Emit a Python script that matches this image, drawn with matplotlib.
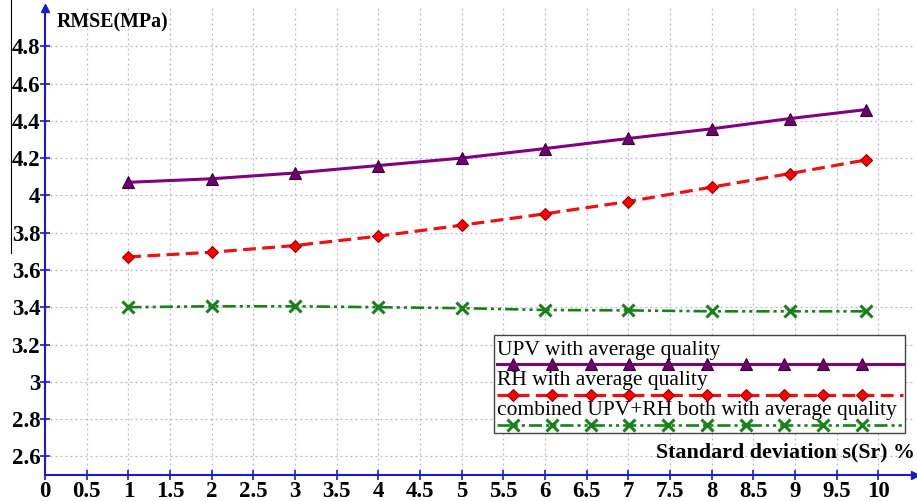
import matplotlib
matplotlib.use("Agg")
import matplotlib.pyplot as plt
from matplotlib.lines import Line2D
from matplotlib.ticker import FuncFormatter
import numpy as np

# ---- data ----
sr = [1, 2, 3, 4, 5, 6, 7, 8, 8.94, 9.85]
upv = [4.07, 4.089, 4.12, 4.16, 4.20, 4.251, 4.305, 4.357, 4.412, 4.46]
rh = [3.670, 3.695, 3.731, 3.781, 3.840, 3.901, 3.967, 4.044, 4.117, 4.19]
combined = [3.400, 3.405, 3.405, 3.400, 3.395, 3.385, 3.383, 3.378, 3.378, 3.378]
labels = ["UPV with average quality",
          "RH with average quality",
          "combined UPV+RH both with average quality"]
x_ticks = [0, 0.5, 1, 1.5, 2, 2.5, 3, 3.5, 4, 4.5, 5, 5.5, 6, 6.5, 7, 7.5, 8, 8.5, 9, 9.5, 10]
y_ticks = [2.6, 2.8, 3.0, 3.2, 3.4, 3.6, 3.8, 4.0, 4.2, 4.4, 4.6, 4.8]

W, H = 917, 501
fig = plt.figure(figsize=(W / 100, H / 100), dpi=100)
fig.patch.set_facecolor("white")

def px(x, y):
    return (x / W, 1 - y / H)

ax_l, ax_b, ax_r, ax_t = 45, 475, 915, 8
ax = fig.add_axes([ax_l / W, 1 - ax_b / H, (ax_r - ax_l) / W, (ax_b - ax_t) / H])
ax.set_xlim(0, 10.44)
ax.set_ylim(2.5, 5.005)

serif = "Liberation Serif"
blue = "#1a1acc"
grid_c = "#b4b4dc"

for s in ["top", "right"]:
    ax.spines[s].set_visible(False)
for s in ["left", "bottom"]:
    ax.spines[s].set_color(blue)
    ax.spines[s].set_linewidth(1.5)

ax.set_xticks(x_ticks)
ax.set_yticks(y_ticks)
fmt = FuncFormatter(lambda v, p: ("%g" % round(v, 2)))
ax.xaxis.set_major_formatter(fmt)
ax.yaxis.set_major_formatter(fmt)
ax.tick_params(axis="both", direction="inout", length=7, width=1.2, color=blue,
               labelsize=16.5, labelcolor="black")
ax.tick_params(axis="x", pad=1)
ax.tick_params(axis="y", pad=0)
for lab in ax.get_xticklabels() + ax.get_yticklabels():
    lab.set_fontfamily(serif)
    lab.set_fontweight("bold")

ax.grid(True, color=grid_c, linestyle=(0, (1.5, 2.5)), linewidth=0.9)
ax.set_axisbelow(True)

# axis arrows
ax.plot([0], [1], marker="^", color=blue, markersize=6, transform=ax.transAxes, clip_on=False)
ax.plot([1], [0], marker=">", color=blue, markersize=6, transform=ax.transAxes, clip_on=False)

# series
sty_upv = dict(color="#800080", linestyle="-", linewidth=2.2, marker="^", markersize=9,
               markerfacecolor="#6e006e", markeredgecolor="#3a003a", markeredgewidth=0.8)
sty_rh = dict(color="#ee1111", linestyle=(0, (4, 2)), linewidth=2.3, marker="D", markersize=6.5,
              markerfacecolor="#ff0000", markeredgecolor="#990000", markeredgewidth=0.8)
sty_cb = dict(color="#1a801a", linestyle=(0, (5, 1.5, 1.2, 1.5, 1.2, 1.5)), linewidth=1.9,
              marker="x", markersize=9, markeredgewidth=2.2, markeredgecolor="#1a801a")

ax.plot(sr, upv, **sty_upv)
ax.plot(sr, rh, **sty_rh)
ax.plot(sr, combined, **sty_cb)

# axis titles
fig.text(*px(57, 22), "RMSE(MPa)", fontfamily=serif, fontweight="bold", fontsize=14.3,
         ha="left", va="center")
fig.text(*px(915, 452), "Standard deviation s(Sr) %", fontfamily=serif, fontweight="bold",
         fontsize=15.8, ha="right", va="center")

# legend (custom layout: label above full-width sample)
lg_l, lg_r, lg_t, lg_b = 494, 905, 335, 433
rect = plt.Rectangle(px(lg_l, lg_b), (lg_r - lg_l) / W, (lg_b - lg_t) / H,
                     transform=fig.transFigure, facecolor="white", edgecolor="#444444",
                     linewidth=1.0, zorder=5)
fig.add_artist(rect)
text_y = [351, 381, 410]
line_y = [364, 395, 425]
styles = [sty_upv, sty_rh, sty_cb]
mk_x = np.linspace(513, 862, 10)
for lab, ty, ly, st in zip(labels, text_y, line_y, styles):
    fig.text(*px(497, ty), lab, fontfamily=serif, fontsize=15.5, ha="left", va="center", zorder=6)
    line_only = {k: v for k, v in st.items() if not k.startswith("marker")}
    x0, y0 = px(497, ly)
    x1, _ = px(903, ly)
    fig.add_artist(Line2D([x0, x1], [y0, y0], transform=fig.transFigure, zorder=6, **line_only))
    mk = {k: v for k, v in st.items() if k.startswith("marker")}
    fig.add_artist(Line2D(mk_x / W, [y0] * len(mk_x), transform=fig.transFigure,
                          linestyle="none", zorder=7, **mk))

# thin scan-edge line at far left
fig.add_artist(Line2D([11 / W, 11 / W], [1, 1 - 253 / H], transform=fig.transFigure,
                      color="black", linewidth=0.8))

fig.savefig("out.png", dpi=100, facecolor="white")
